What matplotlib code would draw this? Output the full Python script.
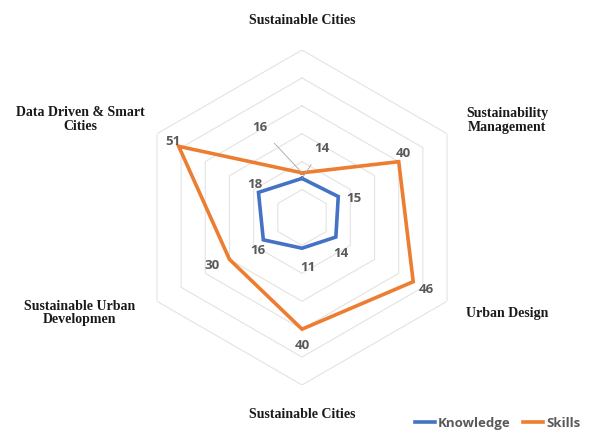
import numpy as np
import matplotlib
matplotlib.use("Agg")
import matplotlib.pyplot as plt

# ---- data
categories = ["Sustainable Cities", "Sustainability\nManagement", "Urban Design",
              "Sustainable Cities", "Sustainable Urban\nDevelopmen", "Data Driven & Smart\nCities"]
knowledge = [14, 15, 14, 11, 16, 18]
skills = [16, 40, 46, 40, 30, 51]
ring_values = [10, 20, 30, 40, 50, 60]

# label offsets (pixels) for each data label
knowledge_offsets = [(20, 30), (16, -2), (5, -16), (6, -19), (-6, -11), (-4, 8)]
skills_offsets = [(-42, 45), (5, 8), (13, -8), (0, -16), (-17, -6), (-6, 5)]

blue = "#4472C4"
orange = "#ED7D31"
label_col = "#595959"

W, H = 592, 434
cx, cy, R = 302, 217.5, 167.5

fig = plt.figure(figsize=(W / 100, H / 100), dpi=100)
ax = fig.add_axes([(cx - R) / W, (H - cy - R) / H, 2 * R / W, 2 * R / H], projection="polar")
ax.set_theta_offset(np.pi / 2)
ax.set_theta_direction(-1)
ax.set_ylim(0, 60)
ax.grid(False)
ax.spines["polar"].set_visible(False)
ax.set_xticks([])
ax.set_yticks([])
ax.patch.set_alpha(0)

n = len(categories)
theta = np.linspace(0, 2 * np.pi, n, endpoint=False)
theta_closed = np.append(theta, theta[0])

# hexagonal grid rings
for rv in ring_values:
    ax.plot(theta_closed, [rv] * (n + 1), color="#e3e3e3", lw=0.8, zorder=1)

ax.plot(theta_closed, knowledge + knowledge[:1], color=blue, lw=2.6, zorder=3,
        label="Knowledge", solid_joinstyle="miter")
ax.plot(theta_closed, skills + skills[:1], color=orange, lw=2.6, zorder=3,
        label="Skills", solid_joinstyle="miter")

def put_labels(values, offsets):
    for i, (v, off) in enumerate(zip(values, offsets)):
        leader = abs(off[0]) > 15 and abs(off[1]) > 25
        ax.annotate(str(v), xy=(theta[i], v), xytext=off, textcoords="offset pixels",
                    ha="center", va="center", fontsize=9.5, fontweight="bold",
                    color=label_col, family="Open Sans", zorder=4,
                    arrowprops=dict(arrowstyle="-", color="#a6a6a6", lw=0.6,
                                    shrinkA=6, shrinkB=0) if leader else None)

put_labels(knowledge, knowledge_offsets)
put_labels(skills, skills_offsets)

# category labels
cat_pos = [(302, 20), (507, 120), (507, 313), (302, 414), (80, 313), (80, 120)]
for txt, (px, py) in zip(categories, cat_pos):
    fig.text(px / W, 1 - py / H, txt, ha="center", va="center", fontsize=10,
             fontweight="bold", family="Liberation Serif", color="#1a1a1a",
             linespacing=1.1)

leg = fig.legend(loc="lower right", bbox_to_anchor=(1.0, -0.018), ncol=2, frameon=False,
                 handlelength=1.5, handletextpad=0.2, columnspacing=1.0,
                 prop={"family": "Open Sans", "weight": "bold", "size": 9.5})
for t in leg.get_texts():
    t.set_color(label_col)

fig.savefig("out.png", dpi=100)
